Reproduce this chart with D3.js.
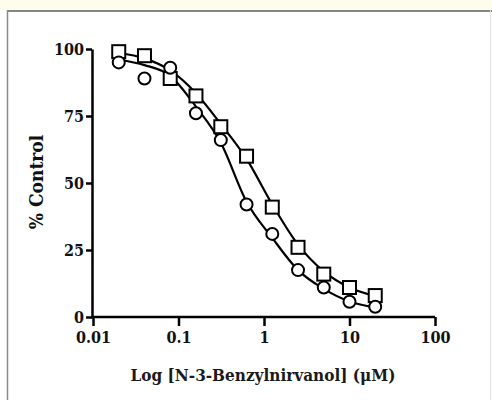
<!DOCTYPE html>
<html>
<head>
<meta charset="utf-8">
<script src="https://cdn.jsdelivr.net/npm/d3@7"></script>
<style>
  html, body { margin: 0; padding: 0; background: #ffffff; }
  svg { display: block; }
</style>
</head>
<body>
<svg id="chart" width="492" height="400"></svg>
<script>
// ---- data ----
const concentrations = [0.02, 0.04, 0.08, 0.16, 0.3125, 0.625, 1.25, 2.5, 5, 10, 20];
const squareValues   = [99, 97.5, 89, 82.5, 71, 60, 41, 26, 16, 11, 8];
const circleValues   = [95, 89, 93, 76, 66, 42, 31, 17.5, 11, 5.7, 3.8];
// fitted curves as read at each concentration
const squareFit = [98.5, 96.5, 92, 83.5, 72, 59, 42, 27, 17, 11, 7.8];
const circleFit = [96, 94, 90, 78.5, 65, 43, 29.5, 17.5, 10.5, 5.8, 3.6];
const xTicks = [0.01, 0.1, 1, 10, 100];
const xTickLabels = ["0.01", "0.1", "1", "10", "100"];
const yTicks = [0, 25, 50, 75, 100];
const xTitle = "Log [N-3-Benzylnirvanol] (\u03BCM)";
const yTitle = "% Control";

const svg = d3.select("#chart");
const W = 492, H = 400;
const font = "'DejaVu Serif Condensed', 'DejaVu Serif', serif";

// frame
svg.append("rect").attr("x", 0).attr("y", 0).attr("width", W).attr("height", 10).attr("fill", "#fefcec");
svg.append("rect").attr("x", 0).attr("y", 10).attr("width", W).attr("height", H - 10).attr("fill", "#ffffff");
svg.append("line").attr("x1", 7).attr("x2", W).attr("y1", 11).attr("y2", 11).attr("stroke", "#858585").attr("stroke-width", 2);
svg.append("line").attr("x1", 7.5).attr("x2", 7.5).attr("y1", 10).attr("y2", H).attr("stroke", "#8a8a8a").attr("stroke-width", 1.5);
svg.append("line").attr("x1", 490.5).attr("x2", 490.5).attr("y1", 10).attr("y2", H).attr("stroke", "#e2e2e2").attr("stroke-width", 1);

const x = d3.scaleLog().domain([0.01, 100]).range([93, 435]);
const y = d3.scaleLinear().domain([0, 100]).range([317, 49]);

// axes
const xAxis = d3.axisBottom(x).tickValues(xTicks)
  .tickFormat((d, i) => xTickLabels[i]).tickSize(9).tickSizeOuter(0).tickPadding(6);
const yAxis = d3.axisLeft(y).tickValues(yTicks).tickSize(6).tickSizeOuter(0).tickPadding(2);

const gx = svg.append("g").attr("transform", "translate(0,317)").call(xAxis);
const gy = svg.append("g").attr("transform", "translate(92,0)").call(yAxis);

[gx, gy].forEach(g => {
  g.select(".domain").attr("stroke", "#000").attr("stroke-width", 2.5);
  g.selectAll(".tick line").attr("stroke", "#000").attr("stroke-width", 2.5);
  g.selectAll(".tick text").attr("fill", "#111").attr("font-family", font)
    .attr("font-weight", "bold").attr("font-size", 16);
});
gx.select(".domain").attr("d", "M91,0H435");

// titles
svg.append("text").attr("x", 263).attr("y", 381).attr("text-anchor", "middle")
  .attr("font-family", font).attr("font-weight", "bold").attr("font-size", 17)
  .attr("fill", "#1a1a1a").text(xTitle);
svg.append("text").attr("transform", "translate(43,182) rotate(-90)").attr("text-anchor", "middle")
  .attr("font-family", font).attr("font-weight", "bold").attr("font-size", 19)
  .attr("fill", "#111").text(yTitle);

// curves
const line = d3.line().x((d, i) => x(concentrations[i])).y(d => y(d)).curve(d3.curveMonotoneX);
svg.append("path").attr("d", line(squareFit)).attr("fill", "none").attr("stroke", "#000").attr("stroke-width", 2.2);
svg.append("path").attr("d", line(circleFit)).attr("fill", "none").attr("stroke", "#000").attr("stroke-width", 2.2);

// markers
const s = 13;
svg.append("g").selectAll("rect").data(squareValues).join("rect")
  .attr("x", (d, i) => x(concentrations[i]) - s / 2)
  .attr("y", d => y(d) - s / 2)
  .attr("width", s).attr("height", s)
  .attr("fill", "#fff").attr("stroke", "#000").attr("stroke-width", 2);
svg.append("g").selectAll("circle").data(circleValues).join("circle")
  .attr("cx", (d, i) => x(concentrations[i]))
  .attr("cy", d => y(d))
  .attr("r", 6)
  .attr("fill", "#fff").attr("stroke", "#000").attr("stroke-width", 2);
</script>
</body>
</html>
